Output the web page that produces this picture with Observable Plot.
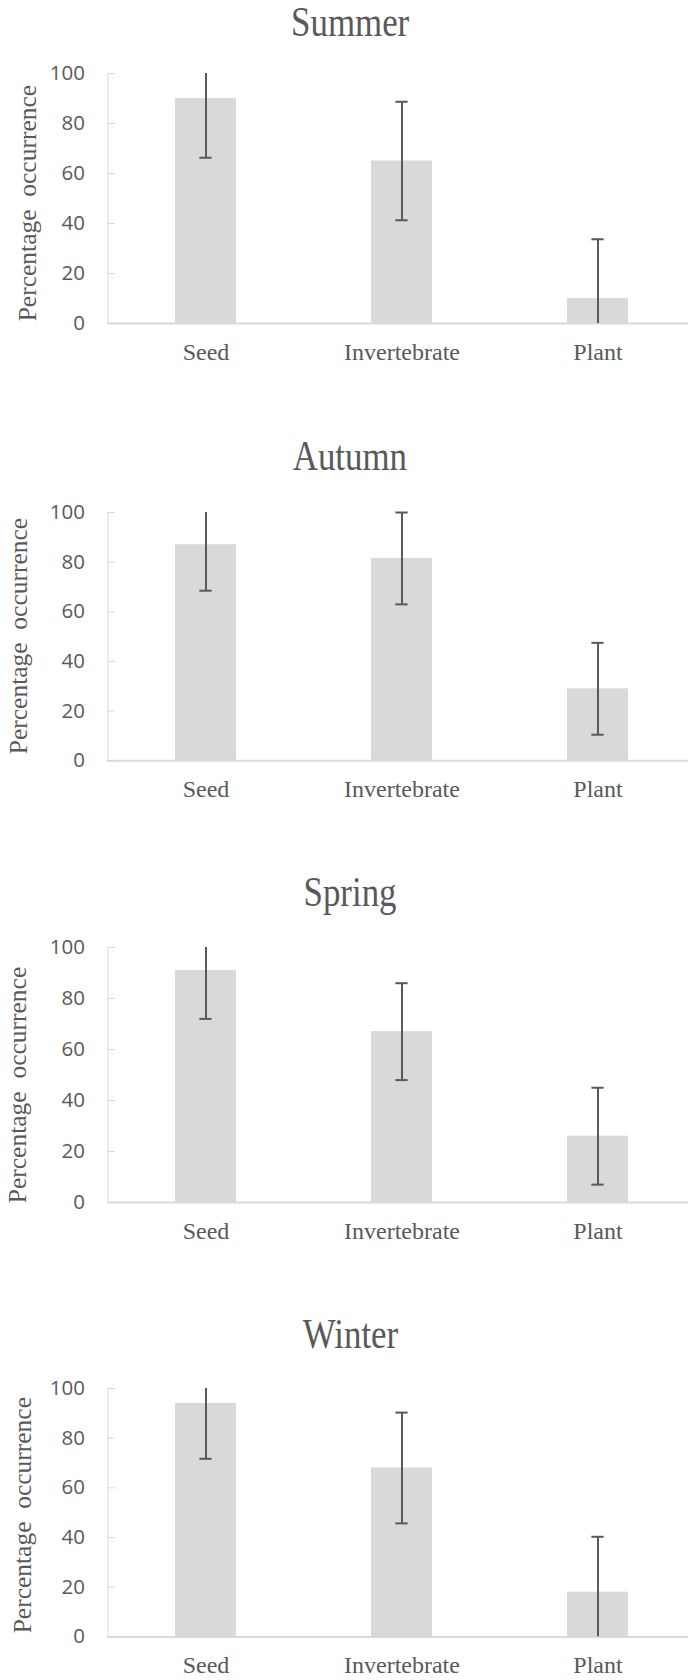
<!DOCTYPE html>
<html>
<head>
<meta charset="utf-8">
<script src="https://cdn.jsdelivr.net/npm/d3@7"></script>
<script src="https://cdn.jsdelivr.net/npm/@observablehq/plot@0.6"></script>
<style>
  html, body { margin: 0; padding: 0; background: #ffffff; }
  #chart { position: relative; width: 688px; height: 1680px; overflow: hidden; }
  .panel-title {
    position: absolute; left: 6px; width: 688px; text-align: center;
    font-family: "Liberation Serif", "Times New Roman", serif;
    font-size: 42px; line-height: 42px; color: #595959;
  }
  .panel-title span { display: inline-block; transform: scaleX(0.83); }
  .panel-plot { position: absolute; left: 0; }
  .serif-text, .serif-text text { font-family: "Liberation Serif", "Times New Roman", serif !important; }
</style>
</head>
<body>
<div id="chart"></div>
<script>
// Diet composition by season: percentage occurrence with error bars
const seasons = ["Summer", "Autumn", "Spring", "Winter"];
const categories = ["Seed", "Invertebrate", "Plant"];
const yTicks = [0, 20, 40, 60, 80, 100];
const yLabel = "Percentage\u00a0\u00a0occurrence";

const summerMean = [90, 65, 10];
const summerError = [23.7, 23.7, 23.7];
const autumnMean = [87, 81.5, 29];
const autumnError = [18.5, 18.5, 18.5];
const springMean = [91, 67, 26];
const springError = [19, 19, 19];
const winterMean = [94, 68, 18];
const winterError = [22.3, 22.3, 22.3];

const seasonMeans = [summerMean, autumnMean, springMean, winterMean];
const seasonErrors = [summerError, autumnError, springError, winterError];

// page layout (pixels)
const plotTop = [73.3, 511.7, 946.7, 1388.3];      // y of the 100 gridline
const plotBottom = [323.3, 760, 1201.7, 1636.7];   // y of the 0 baseline
const titleBaseline = [36, 470, 906, 1348];
const yLabelBaseline = [35, 26, 25, 30];
const yLabelShift = [4.6, -0.6, 10, 2.5];

const W = 688, ML = 107.5, MT = 12, MB = 52;
const labelFont = 25.5;
const ink = "#595959", barFill = "#d9d9d9", axisInk = "#d9d9d9";
const serif = "Liberation Serif";

const chart = document.getElementById("chart");

seasons.forEach((season, i) => {
  const rows = categories.map((category, j) => {
    const m = seasonMeans[i][j], e = seasonErrors[i][j];
    return {
      category, mean: m,
      lo: Math.max(0, m - e), hi: Math.min(100, m + e),
      capLo: m - e >= 0, capHi: m + e <= 100.01
    };
  });

  const h = plotBottom[i] - plotTop[i];
  const step = 196, bandwidth = step * 0.31, capWidth = 12;
  const capInset = (bandwidth - capWidth) / 2;

  const svg = Plot.plot({
    width: W,
    height: MT + h + MB,
    marginLeft: ML,
    marginRight: 0,
    marginTop: MT,
    marginBottom: MB,
    style: { fontFamily: "'Open Sans', sans-serif", fontSize: "20.5px", color: ink, background: "transparent", overflow: "visible" },
    x: { type: "band", domain: categories, range: [ML, ML + 3 * step], paddingInner: 0.69, paddingOuter: 0.345 },
    y: { domain: [0, 100] },
    marks: [
      Plot.barY(rows, { x: "category", y: "mean", fill: barFill }),
      Plot.ruleY([0], { stroke: axisInk, strokeWidth: 2 }),
      Plot.frame({ anchor: "left", stroke: axisInk, strokeWidth: 1 }),
      Plot.tickY(yTicks, { y: d => d, stroke: axisInk, strokeWidth: 1, insetRight: W - ML - 7 }),
      Plot.ruleX(rows, { x: "category", y1: "lo", y2: "hi", stroke: ink, strokeWidth: 2 }),
      Plot.tickY(rows.filter(d => d.capHi), { x: "category", y: "hi", stroke: ink, strokeWidth: 2, insetLeft: capInset, insetRight: capInset }),
      Plot.tickY(rows.filter(d => d.capLo), { x: "category", y: "lo", stroke: ink, strokeWidth: 2, insetLeft: capInset, insetRight: capInset }),
      Plot.axisY({ ticks: yTicks, tickSize: 0, tickPadding: 23, label: null, fontSize: 20.5 }),
      Plot.axisX({ tickSize: 0, tickPadding: 19.5, label: null, fontFamily: serif, fontSize: 24 }),
      Plot.text([yLabel], {
        text: d => d, frameAnchor: "left", rotate: -90,
        textAnchor: "middle", lineAnchor: "middle",
        dx: yLabelBaseline[i] - 0.32 * labelFont - ML, dy: yLabelShift[i],
        fontFamily: serif, fontSize: labelFont, fill: ink, ariaLabel: "y label"
      })
    ]
  });
  svg.classList.add("panel-plot");
  svg.style.top = (plotTop[i] - MT) + "px";
  // serif face for the category labels and the y-axis title
  svg.querySelectorAll('[aria-label="x-axis tick label"], [aria-label="y label"]').forEach(g => g.classList.add("serif-text"));

  const title = document.createElement("div");
  title.className = "panel-title";
  // baseline sits about 0.838em below the top of a 1em line box
  title.style.top = (titleBaseline[i] - 35.2) + "px";
  const span = document.createElement("span");
  span.textContent = season;
  title.appendChild(span);

  chart.appendChild(title);
  chart.appendChild(svg);
});
</script>
</body>
</html>
